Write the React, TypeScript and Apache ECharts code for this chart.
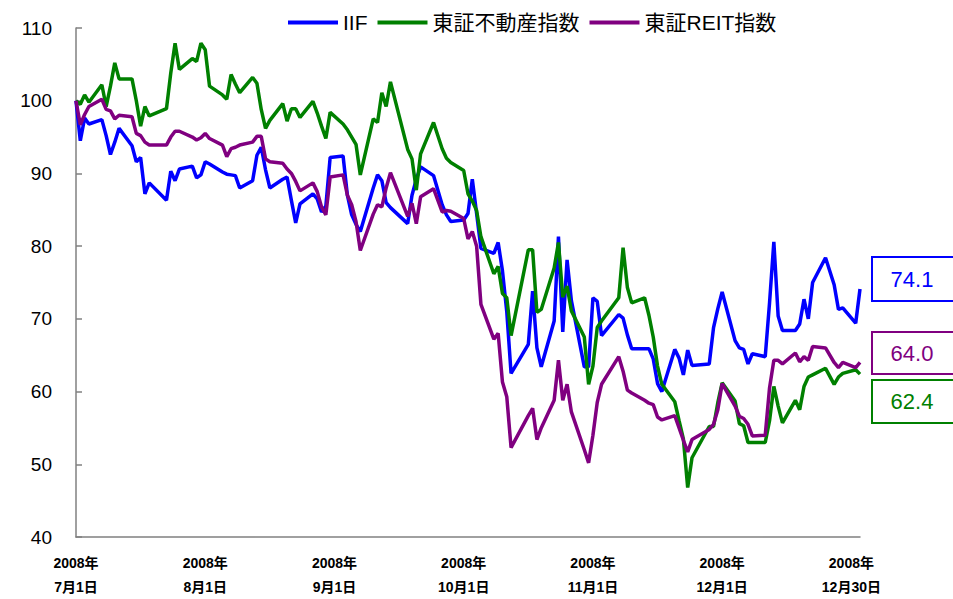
import React, { useEffect, useRef } from "react";
import * as echarts from "echarts";

const DATES = [
  "7/1","7/2","7/3","7/4","7/7","7/8","7/9","7/10","7/11","7/14","7/15","7/16","7/17","7/18","7/22","7/23","7/24","7/25","7/28","7/29","7/30","7/31",
  "8/1","8/4","8/5","8/6","8/7","8/8","8/11","8/12","8/13","8/14","8/15","8/18","8/19","8/20","8/21","8/22","8/25","8/26","8/27","8/28","8/29",
  "9/1","9/2","9/3","9/4","9/5","9/8","9/9","9/10","9/11","9/12","9/16","9/17","9/18","9/19","9/22","9/24","9/25","9/26","9/29","9/30",
  "10/1","10/2","10/3","10/6","10/7","10/8","10/9","10/10","10/14","10/15","10/16","10/17","10/20","10/21","10/22","10/23","10/24","10/27","10/28","10/29","10/30","10/31",
  "11/4","11/5","11/6","11/7","11/10","11/11","11/12","11/13","11/14","11/17","11/18","11/19","11/20","11/21","11/25","11/26","11/27","11/28",
  "12/1","12/2","12/3","12/4","12/5","12/8","12/9","12/10","12/11","12/12","12/15","12/16","12/17","12/18","12/19","12/22","12/24","12/25","12/26","12/29","12/30",
];

const IIF = [
  100, 94.5, 97.6, 96.8, 97.4, 95.2, 92.6, 94.3, 96.2, 93.8, 91.6, 92.2, 87.2, 88.7, 86.3, 90.3, 89.0, 90.6, 91.0, 89.4, 89.8, 91.6,
  91.3, 90.2, 89.9, 89.8, 89.7, 88.0, 89.0, 92.5, 93.6, 90.5, 88.0, 89.2, 89.5, 86.3, 83.2, 85.8, 87.2, 86.5, 84.7, 85.5, 92.2,
  92.4, 87.0, 84.3, 83.0, 82.0, 88.0, 89.8, 89.0, 86.0, 85.3, 83.1, 87.0, 89.2, 90.9, 89.7, 85.7, 84.3, 83.4, 83.6, 84.5,
  89.2, 84.5, 79.7, 79.0, 80.5, 76.6, 71.0, 62.5, 66.5, 73.8, 66.0, 63.4, 69.7, 81.3, 68.2, 78.1, 72.5, 63.4, 63.4, 72.9, 72.4, 67.7,
  70.6, 70.1, 67.8, 65.9, 65.9, 65.9, 64.5, 61.1, 60.0, 65.8, 64.6, 62.3, 65.7, 63.6, 63.8, 68.8, 71.4, 73.7,
  67.0, 66.0, 65.8, 63.8, 65.2, 64.8, 72.2, 80.6, 70.4, 68.4, 68.4, 69.3, 72.7, 70.0, 75.0, 78.4, 74.7, 71.3, 71.5, 69.4, 74.1,
];

const TOSHO_FUDOSAN = [
  100, 99.5, 100.8, 99.8, 102.2, 99.2, 102.0, 105.2, 103.0, 103.0, 100.0, 96.5, 99.2, 97.9, 98.9, 103.8, 107.9, 104.3, 105.8, 105.4, 107.9, 107.0,
  102.0, 100.8, 100.2, 103.6, 102.3, 101.1, 103.2, 102.4, 98.8, 96.2, 97.3, 99.6, 97.2, 98.9, 98.9, 97.7, 99.9, 98.3, 96.5, 94.8, 98.4,
  96.8, 96.0, 95.0, 94.0, 89.8, 97.5, 97.0, 101.1, 99.2, 102.6, 93.3, 92.0, 87.7, 92.7, 97.0, 93.4, 92.1, 91.5, 90.4, 87.2,
  86.2, 84.9, 81.3, 76.2, 77.2, 73.5, 72.9, 67.7, 79.5, 79.5, 70.9, 71.3, 77.0, 80.5, 73.0, 74.5, 71.1, 67.5, 61.0, 63.5, 68.8, 69.7,
  72.9, 79.8, 74.3, 72.2, 72.9, 70.5, 67.5, 63.5, 61.0, 58.6, 56.0, 53.5, 46.8, 50.9, 55.2, 55.2, 58.5, 61.2,
  58.7, 55.6, 55.3, 53.0, 53.0, 53.0, 56.0, 60.7, 58.0, 55.7, 58.8, 57.5, 60.7, 62.0, 62.3, 63.2, 61.0, 62.0, 62.5, 63.0, 62.4,
];

const TOSHO_REIT = [
  100, 96.7, 98.1, 99.2, 100.2, 98.8, 98.6, 97.5, 98.0, 97.8, 95.5, 95.2, 94.3, 93.9, 93.9, 95.0, 95.8, 95.8, 95.0, 94.6, 94.9, 95.5,
  94.8, 93.9, 92.3, 93.4, 93.6, 93.9, 94.3, 95.1, 95.1, 92.0, 91.6, 91.4, 90.6, 90.0, 88.9, 87.6, 88.7, 87.5, 85.4, 84.3, 89.5,
  89.8, 87.0, 85.7, 83.4, 79.4, 84.4, 85.7, 85.4, 88.0, 90.1, 84.1, 85.9, 83.1, 86.8, 87.9, 84.7, 84.9, 84.8, 83.8, 81.0,
  82.0, 80.0, 72.0, 67.2, 68.0, 61.3, 59.3, 52.3, 56.7, 57.7, 53.4, 55.0, 58.8, 64.3, 58.8, 61.0, 57.2, 52.0, 50.2, 54.0, 58.5, 61.0,
  64.8, 62.8, 60.2, 59.8, 58.8, 58.4, 58.2, 56.5, 56.1, 56.7, 55.0, 53.3, 51.7, 53.4, 54.8, 55.5, 57.5, 61.1,
  58.0, 56.6, 56.3, 55.5, 53.9, 54.0, 60.5, 64.3, 64.3, 63.8, 65.3, 64.1, 64.8, 64.3, 66.2, 66.0, 64.0, 63.3, 64.0, 63.3, 64.0,
];

const SERIES_NAMES = ["IIF", "東証不動産指数", "東証REIT指数"];
const SERIES_COLORS = ["#0000FF", "#008000", "#800080"];

const TICK_LABELS = [
  "2008年\n7月1日",
  "2008年\n8月1日",
  "2008年\n9月1日",
  "2008年\n10月1日",
  "2008年\n11月1日",
  "2008年\n12月1日",
  "2008年\n12月30日",
];

const FONT = '"Liberation Sans", "Noto Sans CJK JP", sans-serif';

const BASE = Date.UTC(2008, 6, 1);
const dayOffset = (s: string) => {
  const [m, d] = s.split("/").map(Number);
  return Math.round((Date.UTC(2008, m - 1, d) - BASE) / 86400000);
};

export default function App() {
  const ref = useRef<HTMLDivElement>(null);

  useEffect(() => {
    if (!ref.current) return;
    const chart = echarts.init(ref.current, null, { renderer: "svg" });
    const xs = DATES.map(dayOffset);
    const allValues = [IIF, TOSHO_FUDOSAN, TOSHO_REIT];

    // end-value boxes (order on the right: blue, purple, green)
    const boxes = [
      { idx: 0, y: 257, h: 44 },
      { idx: 2, y: 332, h: 42 },
      { idx: 1, y: 380, h: 43 },
    ];
    const graphics: any[] = [];
    boxes.forEach((b) => {
      const vals = allValues[b.idx];
      const color = SERIES_COLORS[b.idx];
      graphics.push({
        type: "rect",
        shape: { x: 872, y: b.y, width: 92, height: b.h },
        style: { fill: "#ffffff", stroke: color, lineWidth: 2 },
        z: 10,
      });
      graphics.push({
        type: "text",
        x: 912,
        y: b.y + b.h / 2,
        style: {
          text: vals[vals.length - 1].toFixed(1),
          fill: color,
          fontSize: 22,
          fontFamily: FONT,
          align: "center",
          verticalAlign: "middle",
        },
        z: 11,
      });
    });

    chart.setOption({
      animation: false,
      backgroundColor: "#ffffff",
      grid: { left: 76, right: 93, top: 28, bottom: 57, containLabel: false },
      legend: {
        data: SERIES_NAMES,
        left: 283,
        top: 7,
        icon: "rect",
        itemWidth: 50,
        itemHeight: 4,
        itemGap: 10,
        textStyle: { fontSize: 21, color: "#000", fontFamily: FONT },
      },
      xAxis: {
        type: "value",
        min: 0,
        max: 182,
        interval: 30,
        axisLine: { show: true, lineStyle: { color: "#808080", width: 1.5 } },
        axisTick: { show: false },
        splitLine: { show: false },
        axisLabel: {
          margin: 14,
          fontSize: 14,
          fontWeight: "bold",
          lineHeight: 24,
          color: "#000",
          fontFamily: FONT,
          formatter: (v: number) => {
            const i = v / 30;
            return Number.isInteger(i) && i < TICK_LABELS.length ? TICK_LABELS[i] : "";
          },
        },
      },
      yAxis: {
        type: "value",
        min: 40,
        max: 110,
        interval: 10,
        axisLine: { show: true, lineStyle: { color: "#808080", width: 1.5 } },
        axisTick: { show: true, inside: true, length: 6, lineStyle: { color: "#808080", width: 1.5 } },
        splitLine: { show: false },
        axisLabel: { margin: 24, fontSize: 19, color: "#000", fontFamily: FONT },
      },
      series: SERIES_NAMES.map((name, i) => ({
        name,
        type: "line",
        data: xs.map((x, j) => [x, allValues[i][j]]),
        showSymbol: false,
        symbol: "none",
        color: SERIES_COLORS[i],
        lineStyle: { color: SERIES_COLORS[i], width: 3.5 },
        z: 2 + i,
      })),
      graphic: graphics,
    });

    return () => chart.dispose();
  }, []);

  return (
    <div
      ref={ref}
      style={{ position: "absolute", left: 0, top: 0, width: 953, height: 599, background: "#fff" }}
    />
  );
}
